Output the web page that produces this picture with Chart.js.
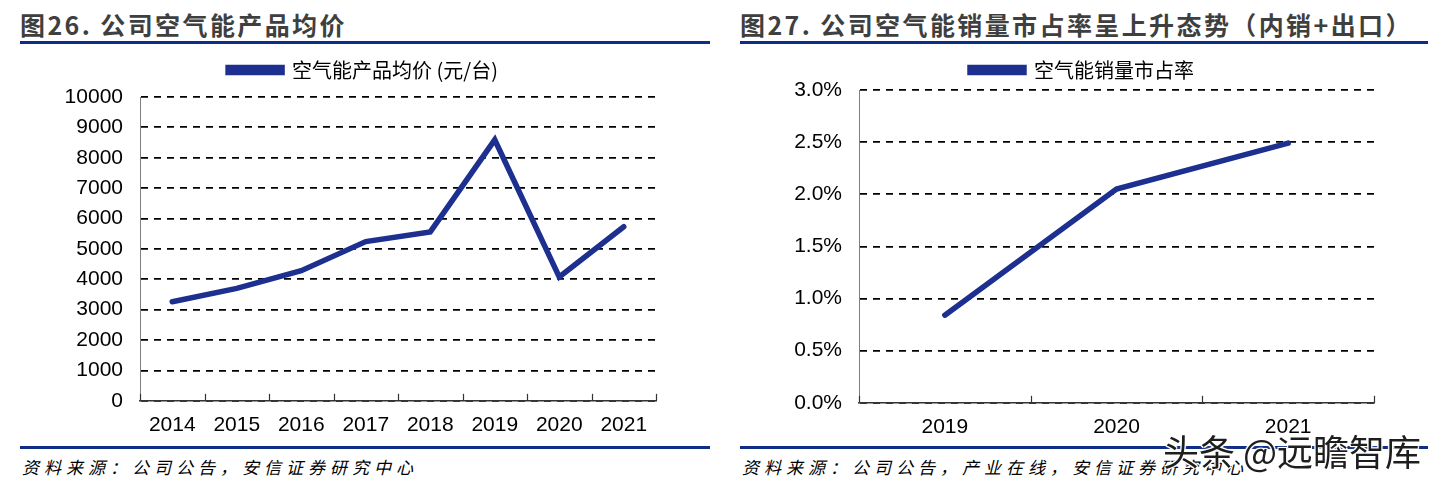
<!DOCTYPE html>
<html>
<head>
<meta charset="utf-8">
<script src="https://cdn.jsdelivr.net/npm/chart.js@4.4.1/dist/chart.umd.min.js"></script>
<style>
  html, body { margin:0; padding:0; background:#fff; }
  body { width:1440px; height:487px; position:relative; overflow:hidden; font-family:"Noto Sans CJK SC", sans-serif; }
  .title { position:absolute; top:8px; font-size:25px; line-height:32px; font-weight:bold; color:#3f3f3f; letter-spacing:2.4px; white-space:nowrap; }
  .rule  { position:absolute; height:3px; background:#0d2d87; }
  .src   { position:absolute; top:455px; font-size:17px; line-height:24px; font-style:italic; color:#000; letter-spacing:5px; white-space:nowrap; }
  .box   { position:absolute; top:50px; width:720px; height:409px; }
  .mark  { position:absolute; left:1163px; top:428px; font-size:36px; line-height:44px; color:#1e1e1e; white-space:nowrap;
           text-shadow:-1px -1px 0 #fff, 1px -1px 0 #fff, -1px 1px 0 #fff, 1px 1px 0 #fff, 0 0 3px #fff; }
</style>
</head>
<body>
<div class="title" style="left:20px">图26. 公司空气能产品均价</div>
<div class="rule" style="left:20px;top:41px;width:690px"></div>
<div class="title" style="left:740px">图27. 公司空气能销量市占率呈上升态势（内销+出口）</div>
<div class="rule" style="left:740px;top:41px;width:688px"></div>

<div class="rule" style="left:20px;top:446px;width:690px"></div>
<div class="rule" style="left:740px;top:446px;width:688px"></div>
<div class="src" style="left:22px">资料来源：公司公告，安信证券研究中心</div>
<div class="src" style="left:742px">资料来源：公司公告，产业在线，安信证券研究中心</div>

<div class="box" style="left:0"><canvas id="priceChart"></canvas></div>
<div class="box" style="left:720px"><canvas id="shareChart"></canvas></div>

<div class="mark">头条 @远瞻智库</div>

<script>
'use strict';

// --- Data ---
const priceYears = ['2014','2015','2016','2017','2018','2019','2020','2021'];
const priceValues = [3260, 3700, 4280, 5240, 5560, 8590, 4080, 5730];
const priceLabel = '空气能产品均价 (元/台)';

const shareYears = ['2019','2020','2021'];
const shareValues = [0.84, 2.05, 2.49];   // %
const shareLabel = '空气能销量市占率';

const LINE = '#1d3090';
const TICK_FONT = { family:'"Liberation Sans", Arial, sans-serif', size:21 };

// small upward ticks on the x axis, between categories
const boundaryTicks = {
  id:'boundaryTicks',
  afterDraw(chart){
    const x = chart.scales.x, ctx = chart.ctx;
    const n = x.getLabels().length;
    ctx.save();
    ctx.strokeStyle = '#333'; ctx.lineWidth = 1.2;
    for(let i=0;i<=n;i++){
      const px = Math.round(x.getPixelForValue(i-0.5)) + 0.5;
      ctx.beginPath(); ctx.moveTo(px, x.top); ctx.lineTo(px, x.top-7); ctx.stroke();
    }
    ctx.restore();
  }
};

// extra gap under the legend, and a small sideways nudge
function legendTweak(gap, dx){
  return {
    id:'legendTweak',
    beforeInit(chart){
      const lg = chart.legend;
      const fit = lg.fit, draw = lg.draw;
      lg.fit = function(){ fit.call(this); this.height += gap; };
      lg.draw = function(){ const c=this.ctx; c.save(); c.translate(dx,0); draw.call(this); c.restore(); };
    }
  };
}

function makeChart(id, labels, values, label, yOpts, pad, axisW, gap, dx){
  return new Chart(document.getElementById(id), {
    type:'line',
    data:{ labels, datasets:[{ label, data:values, borderColor:LINE, backgroundColor:LINE,
      borderWidth:5.5, pointRadius:0, tension:0, borderCapStyle:'round' }] },
    options:{
      responsive:true, maintainAspectRatio:false, animation:false,
      layout:{ padding:pad },
      plugins:{
        legend:{ labels:{ boxWidth:54, boxHeight:5, padding:10, color:'#000',
          font:{ family:'"Noto Sans CJK SC", sans-serif', size:20 } } },
        tooltip:{ enabled:false }
      },
      scales:{
        x:{ offset:true,
            grid:{ display:false, drawTicks:false },
            border:{ display:true, color:'#333', width:1.5 },
            ticks:{ color:'#000', font:TICK_FONT, padding:12, maxRotation:0 } },
        y:Object.assign({
            grid:{ color:'#000', lineWidth:1.8, drawTicks:false },
            border:{ display:true, color:'#808080', width:1, dash:[7,6] },
            afterFit(s){ s.width = axisW; }
          }, yOpts)
      }
    },
    plugins:[boundaryTicks, legendTweak(gap, dx)]
  });
}

makeChart('priceChart', priceYears, priceValues, priceLabel,
  { min:0, max:10000, ticks:{ stepSize:1000, color:'#000', font:TICK_FONT, padding:17,
      callback:v => String(v) } },
  { left:50, right:64, top:0, bottom:9 }, 90, 7, 10);

makeChart('shareChart', shareYears, shareValues, shareLabel,
  { min:0, max:3, ticks:{ stepSize:0.5, color:'#000', font:TICK_FONT, padding:17,
      callback:v => v.toFixed(1)+'%' } },
  { left:60, right:66, top:0, bottom:7 }, 79, 0, 5);
</script>
</body>
</html>
